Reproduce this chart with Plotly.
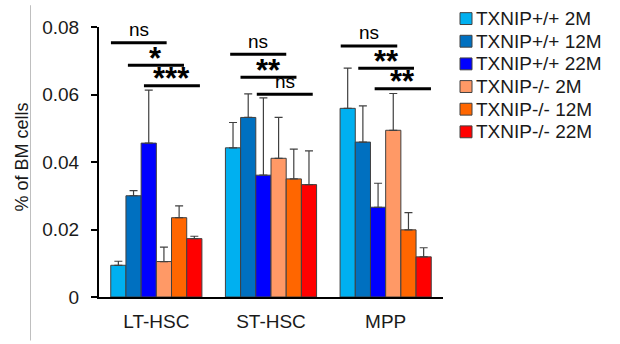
import plotly.graph_objects as go

# ---- data ----
categories = ["LT-HSC", "ST-HSC", "MPP"]
series_names = ["TXNIP+/+ 2M", "TXNIP+/+ 12M", "TXNIP+/+ 22M",
                "TXNIP-/- 2M", "TXNIP-/- 12M", "TXNIP-/- 22M"]
wt_2m = [0.0094, 0.0442, 0.0559]
wt_12m = [0.0300, 0.0532, 0.0459]
wt_22m = [0.0456, 0.0361, 0.0266]
ko_2m = [0.0105, 0.0411, 0.0494]
ko_12m = [0.0235, 0.0350, 0.0199]
ko_22m = [0.0173, 0.0333, 0.0119]
err_wt_2m = [0.0012, 0.0075, 0.0119]
err_wt_12m = [0.0015, 0.0070, 0.0107]
err_wt_22m = [0.0157, 0.0229, 0.0071]
err_ko_2m = [0.0043, 0.0121, 0.0109]
err_ko_12m = [0.0035, 0.0088, 0.0051]
err_ko_22m = [0.0007, 0.0100, 0.0027]
y_ticks = [0, 0.02, 0.04, 0.06, 0.08]
y_tick_labels = ["0", "0.02", "0.04", "0.06", "0.08"]
# significance brackets: category index, start offset, end offset, y, label
bracket_cat = [0, 0, 0, 1, 1, 1, 2, 2, 2]
bracket_x0 = [-0.396, -0.248, -0.108, -0.356, -0.266, -0.124, -0.392, -0.239, -0.096]
bracket_x1 = [0.090, 0.241, 0.380, 0.133, 0.222, 0.364, 0.101, 0.247, 0.395]
bracket_y = [0.0753, 0.0687, 0.0626, 0.0719, 0.0651, 0.0601, 0.0744, 0.0678, 0.0617]
bracket_label = ["ns", "*", "***", "ns", "**", "ns", "ns", "**", "**"]

values = [wt_2m, wt_12m, wt_22m, ko_2m, ko_12m, ko_22m]
errors = [err_wt_2m, err_wt_12m, err_wt_22m, err_ko_2m, err_ko_12m, err_ko_22m]
colors = ["#00B0F0", "#0070C0", "#0000FF", "#FF9966", "#FF6600", "#FF0000"]

FONT = "Liberation Sans, Arial, sans-serif"
W, H = 620, 344
ML, MR, MT, MB = 99, 177, 27, 44
PW, PH = W - ML - MR, H - MT - MB


def px_x(px):
    return (px - ML) / PW


def px_y(py):
    return (H - MB - py) / PH


fig = go.Figure()
for name, vals, errs, col in zip(series_names, values, errors, colors):
    fig.add_trace(go.Bar(
        x=categories, y=vals, name=name,
        marker=dict(color=col, line=dict(color="#404040", width=1)),
        error_y=dict(type="data", array=errs, symmetric=False,
                     arrayminus=[0] * len(errs),
                     color="#404040", thickness=1.2, width=4),
        showlegend=False,
    ))

shapes = []
annotations = []
for c, x0, x1, yv, lab in zip(bracket_cat, bracket_x0, bracket_x1, bracket_y, bracket_label):
    shapes.append(dict(type="line", xref="x", yref="y", x0=c + x0, x1=c + x1,
                       y0=yv, y1=yv, line=dict(color="black", width=3)))
    if lab == "ns":
        annotations.append(dict(x=c + (x0 + x1) / 2, y=yv, xref="x", yref="y",
                                text=lab, showarrow=False, yanchor="middle",
                                yshift=13, font=dict(family=FONT, size=19, color="black")))
    else:
        annotations.append(dict(x=c + (x0 + x1) / 2, y=yv, xref="x", yref="y",
                                text="<b>" + lab + "</b>", showarrow=False, yanchor="middle",
                                yshift=7, font=dict(family=FONT, size=31, color="black")))

# manual legend
leg_x0, leg_y0, leg_step = 460, 18.5, 22.9
for i, (name, col) in enumerate(zip(series_names, colors)):
    cy = leg_y0 + i * leg_step
    shapes.append(dict(type="rect", xref="paper", yref="paper",
                       x0=px_x(leg_x0), x1=px_x(leg_x0 + 12),
                       y0=px_y(cy + 6), y1=px_y(cy - 6),
                       fillcolor=col, line=dict(color="#404040", width=1)))
    annotations.append(dict(x=px_x(leg_x0 + 14), y=px_y(cy), xref="paper", yref="paper",
                            text=name, showarrow=False, xanchor="left", yanchor="middle",
                            font=dict(family=FONT, size=19, color="#1a1a1a")))

# y-axis title
annotations.append(dict(x=px_x(22), y=px_y(159), xref="paper", yref="paper",
                        text="% of BM cells", showarrow=False, textangle=-90,
                        xanchor="center", yanchor="middle",
                        font=dict(family=FONT, size=18, color="#1a1a1a")))

# light grey vertical frame line at left
shapes.append(dict(type="line", xref="paper", yref="paper",
                   x0=px_x(30.5), x1=px_x(30.5), y0=px_y(5), y1=px_y(344),
                   line=dict(color="#BFBFBF", width=1)))

fig.update_layout(
    width=W, height=H,
    margin=dict(l=ML, r=MR, t=MT, b=MB, pad=0),
    paper_bgcolor="white", plot_bgcolor="white",
    barmode="group", bargap=0.205, bargroupgap=0,
    font=dict(family=FONT, size=19, color="#1a1a1a"),
    shapes=shapes, annotations=annotations,
    xaxis=dict(showline=True, linecolor="black", linewidth=2, ticks="",
               showgrid=False, zeroline=False, ticklabelstandoff=6,
               tickfont=dict(family=FONT, size=19, color="#1a1a1a")),
    yaxis=dict(range=[0, 0.08], tickvals=y_ticks, ticktext=y_tick_labels,
               showline=True, linecolor="black", linewidth=2,
               ticks="outside", ticklen=6, tickwidth=2, tickcolor="black",
               showgrid=False, zeroline=False, ticklabelstandoff=8,
               tickfont=dict(family=FONT, size=19, color="#1a1a1a")),
)

fig.write_html("out.html")
